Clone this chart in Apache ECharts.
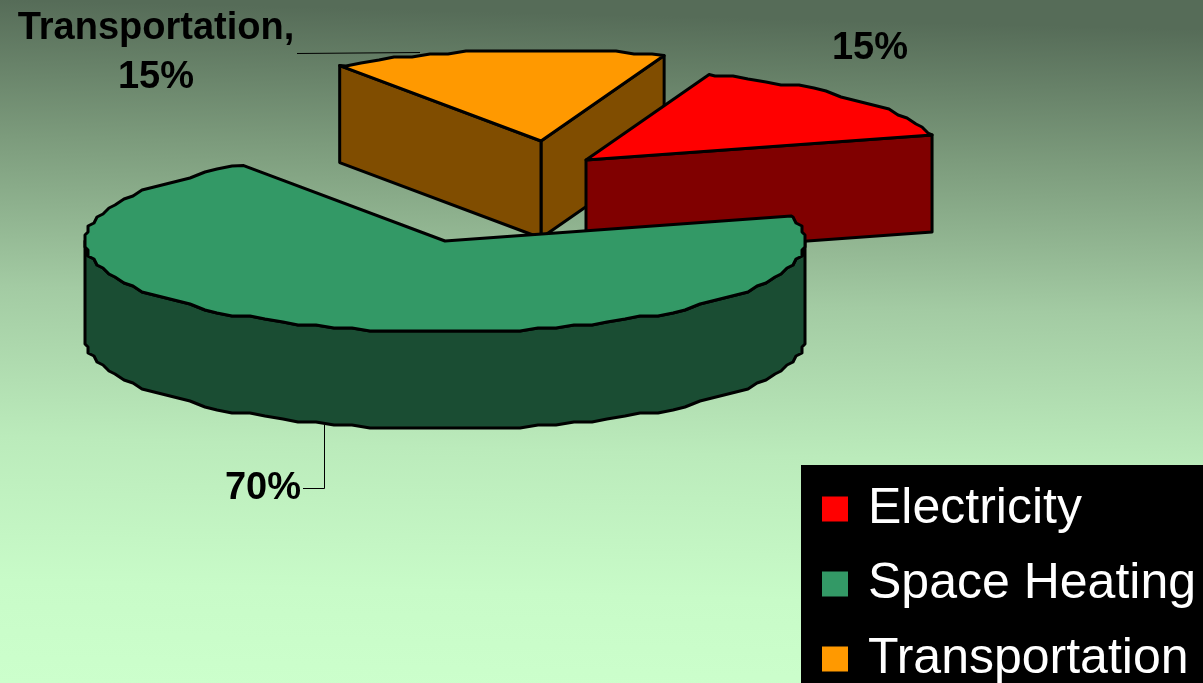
<!DOCTYPE html>
<html>
<head>
<meta charset="utf-8">
<style>html,body{margin:0;padding:0;background:#ccffcc}#c{width:1203px;height:683px;overflow:hidden}</style>
<script src="https://cdn.jsdelivr.net/npm/echarts@6/dist/echarts.min.js"></script>
</head>
<body>
<div id="c"></div>
<script>
// Data
var categories = ['Electricity', 'Space Heating', 'Transportation'];
var shares = [15, 70, 15];

// Style
var topColors = ['#ff0000', '#339966', '#ff9900'];
var wallColors = ['#800000', '#1a4d33', '#804d00'];

// Layout of the projected pie
var RX = 360, RY = 91, DEPTH = 97, START_DEG = 70, STEP_DEG = 3;
var SNAP_X = 3, SNAP_Y = 3;
var sliceApex = [[586, 160], [445, 241], [541, 141]];
var seriesZ = [3, 4, 2];
var labelLayout = [
  {lines: function (n, v) { return [v + '%']; }, x: 870, y: 49, line: null},
  {lines: function (n, v) { return [v + '%']; }, x: 263, y: 489, line: [[303, 488.5], [324.5, 488.5], [324.5, 425]]},
  {lines: function (n, v) { return [n + ',', v + '%']; }, x: 156, y: 29, line: [[297, 53.5], [420, 52.5]]}
];

function rad(d) { return d * Math.PI / 180; }
function rimPoint(a, deg, dy) {
  return [a[0] + RX * Math.cos(rad(deg)), a[1] - RY * Math.sin(rad(deg)) + (dy || 0)];
}
// Rim sampled on a fixed angle grid and snapped, giving the reference's slightly wobbled outline
function arcPoints(a, from, to, dy) {
  dy = dy || 0;
  var pts = [rimPoint(a, from, dy)], dir = to > from ? 1 : -1;
  var d = dir > 0 ? (Math.floor(from / STEP_DEG) + 1) * STEP_DEG : (Math.ceil(from / STEP_DEG) - 1) * STEP_DEG;
  for (; dir > 0 ? d < to : d > to; d += dir * STEP_DEG) {
    var p = rimPoint(a, d, 0);
    pts.push([a[0] + Math.round((p[0] - a[0]) / SNAP_X) * SNAP_X,
              a[1] + Math.round((p[1] - a[1]) / SNAP_Y) * SNAP_Y + dy]);
  }
  pts.push(rimPoint(a, to, dy));
  return pts;
}
function poly(points, fill) {
  return {type: 'polygon', shape: {points: points},
    style: {fill: fill, stroke: '#000', lineWidth: 3, lineJoin: 'round'}};
}

function makeRender(i) {
  return function (params, api) {
    var value = api.value(0), before = 0;
    for (var k = 0; k < i; k++) before += shares[k];
    var t1 = START_DEG - before * 3.6, t0 = t1 - value * 3.6;
    var a = sliceApex[i], kids = [], b = [a[0], a[1] + DEPTH];

    // Radial walls that face the viewer
    if (Math.cos(rad(t0)) > 0) kids.push(poly([a, rimPoint(a, t0), rimPoint(a, t0, DEPTH), b], wallColors[i]));
    if (Math.cos(rad(t1)) < 0) kids.push(poly([a, rimPoint(a, t1), rimPoint(a, t1, DEPTH), b], wallColors[i]));

    // Outer wall: front half of the rim only
    for (var m = -1; m <= 1; m++) {
      var lo = Math.max(t0, -180 + 360 * m), hi = Math.min(t1, 360 * m);
      if (hi > lo) {
        kids.push(poly(arcPoints(a, lo, hi, 0).concat(arcPoints(a, hi, lo, DEPTH)), wallColors[i]));
      }
    }
    // Top face
    kids.push(poly([a].concat(arcPoints(a, t0, t1, 0)), topColors[i]));

    // Label and leader
    var lab = labelLayout[i];
    if (lab.line) {
      kids.push({type: 'polyline', shape: {points: lab.line}, style: {fill: 'none', stroke: '#000', lineWidth: 1}});
    }
    lab.lines(categories[i], value).forEach(function (t, j) {
      kids.push({type: 'text', style: {x: lab.x, y: lab.y + j * 49, text: t, fill: '#000',
        font: 'bold 38px "Liberation Sans", Arial, sans-serif', textAlign: 'center', textVerticalAlign: 'middle'}});
    });
    return {type: 'group', children: kids};
  };
}

var chart = echarts.init(document.getElementById('c'), null, {renderer: 'canvas'});
chart.setOption({
  animation: false,
  backgroundColor: {type: 'linear', x: 17, y: 0, x2: 0, y2: 683, global: true,
    colorStops: [
      {offset: 0, color: '#566c58'},
      {offset: 0.2, color: '#7c9b7c'},
      {offset: 0.42, color: '#a3cba3'},
      {offset: 0.64, color: '#bbebbb'},
      {offset: 0.85, color: '#c8fbc8'},
      {offset: 1, color: '#ccffcc'}
    ]},
  legend: {
    orient: 'vertical', left: 801, top: 465, height: 400,
    padding: [14, 8, 30, 21], itemGap: 15,
    itemWidth: 26, itemHeight: 25, icon: 'rect', selectedMode: false,
    backgroundColor: '#000', borderWidth: 0,
    data: categories,
    itemStyle: {borderWidth: 0},
    textStyle: {color: '#fff', fontSize: 50, lineHeight: 54, padding: [6, 0, 0, 15],
      fontFamily: '"Liberation Sans", Arial, sans-serif'}
  },
  series: categories.map(function (name, i) {
    return {
      type: 'custom', name: name, coordinateSystem: 'none', z: seriesZ[i],
      itemStyle: {color: topColors[i]}, silent: true,
      data: [[shares[i]]], renderItem: makeRender(i)
    };
  })
});
</script>
</body>
</html>
